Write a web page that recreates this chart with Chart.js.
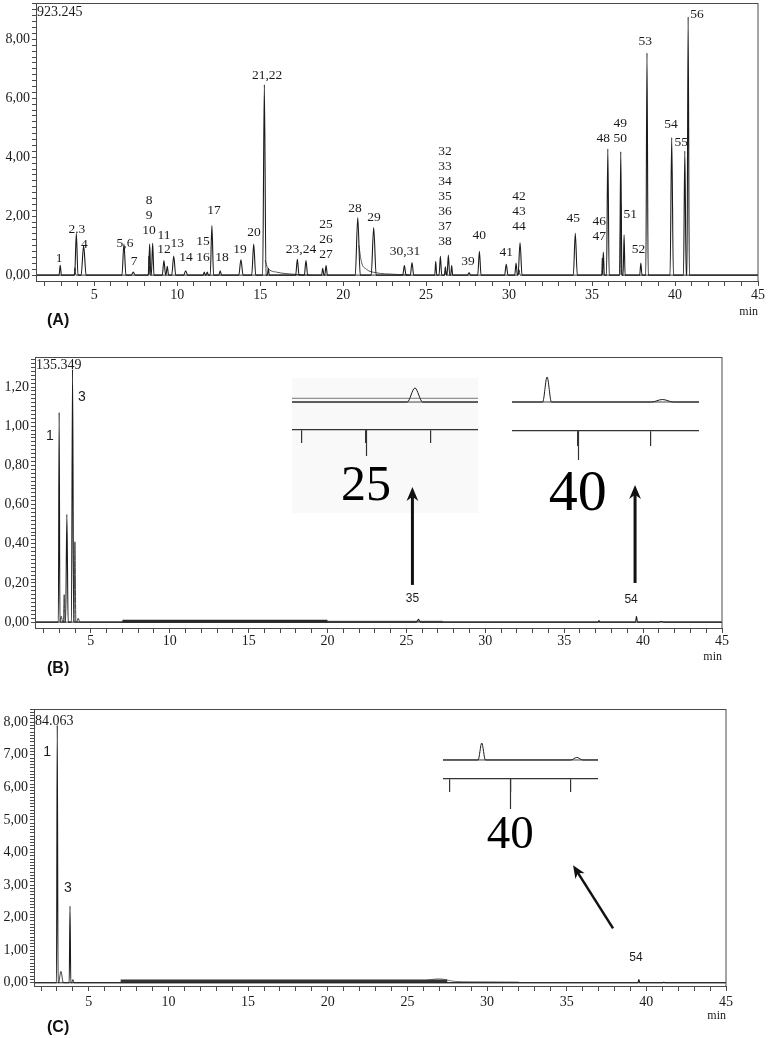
<!DOCTYPE html>
<html>
<head>
<meta charset="utf-8">
<script src="https://cdn.jsdelivr.net/npm/chart.js@4.4.1/dist/chart.umd.min.js"></script>
<style>
  html, body { margin: 0; padding: 0; background: #fff; }
  body { width: 768px; height: 1038px; position: relative; overflow: hidden; }
  .box { position: absolute; left: 0; width: 768px; }
  .inset { position: absolute; }
  .tag { position: absolute; left: 47px; font: bold 16px "Liberation Sans", Arial, sans-serif; color: #111; line-height: 18px; }
</style>
</head>
<body>
<div class="inset" style="left:292px;top:378px;width:186px;height:135px;background:#f9f9f9"></div>
<div class="box" style="top:0;height:320px"><canvas id="chartA"></canvas></div>
<div class="box" style="top:350px;height:314px"><canvas id="chartB"></canvas></div>
<div class="box" style="top:700px;height:323px"><canvas id="chartC"></canvas></div>
<div class="inset" style="left:292px;top:376px;width:186px;height:137px"><canvas id="insetB1"></canvas></div>
<div class="inset" style="left:512px;top:372px;width:187px;height:149px"><canvas id="insetB2"></canvas></div>
<div class="inset" style="left:443px;top:735px;width:155px;height:119px"><canvas id="insetC"></canvas></div>
<div class="tag" style="top:311px">(A)</div>
<div class="tag" style="top:659px">(B)</div>
<div class="tag" style="top:1018px">(C)</div>
<script>
// ---------- panel A: retention time (min), height, half base width ----------
const peakTimeA   = [2.95, 3.92, 4.36, 6.79, 7.35, 8.34, 8.52, 9.2, 9.4, 9.79, 10.51, 11.63, 11.81, 12.09, 12.59, 13.84, 14.61, 15.25, 15.49, 17.24, 17.76, 18.77, 18.97, 20.88, 21.84, 23.69, 24.15, 25.58, 25.86, 26.16, 26.34, 26.54, 27.59, 28.21, 29.83, 30.42, 30.66, 33.99, 35.68, 35.95, 36.73, 36.93, 37.94, 38.31, 39.8, 40.59, 40.79];
const peakHeightA = [0.33, 1.42, 1.0, 1.05, 0.1, 1.05, 1.08, 0.49, 0.3, 0.65, 0.15, 0.1, 0.1, 1.68, 0.15, 0.52, 1.05, 6.46, 0.23, 0.54, 0.49, 0.23, 0.32, 1.95, 1.61, 0.32, 0.43, 0.47, 0.64, 0.28, 0.68, 0.32, 0.08, 0.81, 0.37, 0.41, 1.1, 1.42, 0.78, 4.28, 4.19, 1.37, 0.41, 7.54, 4.67, 4.22, 8.76];
const peakWidthA  = [0.07, 0.1, 0.15, 0.12, 0.12, 0.07, 0.08, 0.1, 0.08, 0.12, 0.12, 0.07, 0.07, 0.1, 0.08, 0.13, 0.12, 0.1, 0.06, 0.1, 0.1, 0.07, 0.08, 0.15, 0.15, 0.1, 0.1, 0.06, 0.08, 0.06, 0.08, 0.06, 0.1, 0.1, 0.1, 0.08, 0.12, 0.12, 0.06, 0.08, 0.07, 0.06, 0.07, 0.07, 0.1, 0.08, 0.07];
// second overlaid trace
const peakTimeA2   = [3.84, 8.3, 26.2, 30.6, 35.62, 36.73];
const peakHeightA2 = [0.25, 0.65, 0.12, 0.18, 0.58, 2.38];
const peakWidthA2  = [0.05, 0.05, 0.06, 0.06, 0.05, 0.05];
// tailing after 21,22 and after 28
const tailA1 = [[15.3, 0.5], [15.45, 0.25], [16.0, 0.1], [17.0, 0.03], [18.0, 0]];
const tailA2 = [[20.95, 1.0], [21.1, 0.45], [21.4, 0.2], [22.0, 0.08], [23.0, 0.03], [24.0, 0]];

const labelTextA  = ['1', '2.3', '4', '5,6', '7', '8', '9', '10', '11', '12', '13', '14', '15', '16', '17', '18', '19', '20', '21,22', '23,24', '25', '26', '27', '28', '29', '30,31', '32', '33', '34', '35', '36', '37', '38', '39', '40', '41', '42', '43', '44', '45', '46', '47', '48', '49', '50', '51', '52', '53', '54', '55', '56'];
const labelTimeA  = [2.89, 3.95, 4.4, 6.85, 7.41, 8.3, 8.3, 8.3, 9.2, 9.2, 10.0, 10.53, 11.56, 11.56, 12.21, 12.7, 13.79, 14.63, 15.42, 17.46, 18.97, 18.97, 18.97, 20.72, 21.86, 23.73, 26.14, 26.14, 26.14, 26.14, 26.14, 26.14, 26.14, 27.53, 28.2, 29.83, 30.6, 30.6, 30.6, 33.86, 35.43, 35.43, 35.67, 36.7, 36.7, 37.3, 37.8, 38.2, 39.76, 40.37, 41.33];
const labelValueA = [0.57, 1.55, 1.05, 1.08, 0.47, 2.53, 2.03, 1.52, 1.35, 0.88, 1.08, 0.61, 1.15, 0.61, 2.21, 0.61, 0.88, 1.45, 6.76, 0.88, 1.72, 1.22, 0.71, 2.26, 1.96, 0.81, 4.19, 3.68, 3.18, 2.67, 2.16, 1.66, 1.15, 0.47, 1.35, 0.78, 2.67, 2.16, 1.66, 1.93, 1.82, 1.32, 4.63, 5.14, 4.63, 2.06, 0.88, 7.94, 5.1, 4.49, 8.85];

// ---------- panel B ----------
const peakTimeB1   = [2.99, 3.48, 3.84, 25.76, 37.2, 39.58, 41.16];
const peakHeightB1 = [1.07, 0.55, 1.29, 0.015, 0.008, 0.03, 0.003];
const peakWidthB1  = [0.05, 0.08, 0.07, 0.12, 0.05, 0.06, 0.15];
const peakTimeB2   = [3.12, 3.31, 3.99, 4.2];
const peakHeightB2 = [0.03, 0.14, 0.41, 0.02];
const peakWidthB2  = [0.1, 0.05, 0.06, 0.1];
const noiseB1 = [[7.0, 0.006], [20.0, 0.006]];
const noiseB2 = [[20.0, 0.004], [27.3, 0.004]];
const labelTextB  = ['1', '3', '35', '54'];
const labelTimeB  = [2.41, 4.43, 25.38, 39.24];
const labelValueB = [0.95, 1.15, 0.118, 0.113];
const arrowsB = [[25.38, 0.19, 25.38, 0.69], [39.49, 0.2, 39.49, 0.7]];

// ---------- panel C ----------
const peakTimeC1   = [3.02, 3.82, 39.53, 41.1];
const peakHeightC1 = [7.91, 2.35, 0.1, 0.015];
const peakWidthC1  = [0.05, 0.05, 0.06, 0.1];
const peakTimeC2   = [3.25, 4.0];
const peakHeightC2 = [0.35, 0.1];
const peakWidthC2  = [0.15, 0.07];
const noiseC1 = [[7.0, 0.05], [27.5, 0.05]];
const noiseC2 = [[26.0, 0.06], [27.0, 0.12], [28.0, 0.04], [29.0, 0.03], [32.0, 0.02]];
const labelTextC  = ['1', '3', '54'];
const labelTimeC  = [2.38, 3.69, 39.35];
const labelValueC = [7.09, 2.91, 0.77];
const arrowsC = [[37.91, 1.67, 35.40, 3.61]];

// axis ticks
const xMajorEvery = 5;
const xMinorStep = 1;

const serif = '"Liberation Serif", "Times New Roman", serif';
const sans = '"Liberation Sans", Arial, sans-serif';
const ink = '#1b1b1b';
const frame = '#4a4a4a';

function peakTrace(times, heights, widths, from, to) {
    const out = [{x: from, y: 0}];
    times.forEach((t, i) => {
        out.push({x: t - widths[i], y: 0}, {x: t, y: heights[i]}, {x: t + widths[i], y: 0});
    });
    out.push({x: to, y: 0});
    return out;
}

const pts = list => list.map(p => ({x: p[0], y: p[1]}));

function tickList(start, stop, step) {
    const out = [];
    for (let i = 0; start + i * step <= stop + 1e-9; i++) {
        out.push(Math.round((start + i * step) * 1000) / 1000);
    }
    return out;
}

const isMajor = (v, every) => Math.abs(v / every - Math.round(v / every)) < 1e-6;

function line(data, width, color) {
    return {
        data: data,
        borderColor: color || ink,
        borderWidth: width || 1,
        pointRadius: 0,
        cubicInterpolationMode: 'monotone',
        fill: false
    };
}

function drawArrow(ctx, x0, y0, x1, y1, w, head) {
    const a = Math.atan2(y1 - y0, x1 - x0);
    const c = Math.cos(a), s = Math.sin(a);
    ctx.lineWidth = w;
    ctx.beginPath();
    ctx.moveTo(x0, y0);
    ctx.lineTo(x1 - c * head * 0.7, y1 - s * head * 0.7);
    ctx.stroke();
    ctx.beginPath();
    ctx.moveTo(x1, y1);
    ctx.lineTo(x1 - c * head + s * head * 0.42, y1 - s * head - c * head * 0.42);
    ctx.lineTo(x1 - c * head * 0.7, y1 - s * head * 0.7);
    ctx.lineTo(x1 - c * head - s * head * 0.42, y1 - s * head + c * head * 0.42);
    ctx.closePath();
    ctx.fill();
}

const decor = {
    id: 'decor',
    afterDraw(chart, args, o) {
        const {ctx, chartArea: a} = chart;
        const x = chart.scales.x, y = chart.scales.y;
        ctx.save();
        ctx.strokeStyle = frame;
        ctx.lineWidth = 1;
        ctx.strokeRect(a.left + 0.5, a.top + 0.5, a.right - a.left - 0.5, a.bottom - a.top);
        ctx.fillStyle = ink;
        ctx.textBaseline = 'middle';
        ctx.textAlign = 'left';
        ctx.font = '14px ' + serif;
        ctx.fillText(o.maxText, a.left + 1, a.top + o.maxDy);
        ctx.textAlign = 'center';
        o.texts.forEach((t, i) => {
            ctx.font = (o.sizes ? o.sizes[i] : o.size) + 'px ' + o.family;
            ctx.fillText(t, x.getPixelForValue(o.times[i]), y.getPixelForValue(o.values[i]));
        });
        ctx.strokeStyle = '#111';
        ctx.fillStyle = '#111';
        (o.arrows || []).forEach(r => {
            drawArrow(ctx, x.getPixelForValue(r[0]), y.getPixelForValue(r[1]),
                x.getPixelForValue(r[2]), y.getPixelForValue(r[3]), o.arrowWidth, o.arrowHead);
        });
        ctx.restore();
    }
};

function panel(id, p) {
    return new Chart(document.getElementById(id), {
        type: 'line',
        data: {datasets: p.datasets},
        options: {
            responsive: true,
            maintainAspectRatio: false,
            animation: false,
            events: [],
            layout: {padding: {top: p.padTop, right: p.padRight, bottom: p.padBottom, left: 0}},
            plugins: {legend: {display: false}, tooltip: {enabled: false}, decor: p.decor},
            scales: {
                x: {
                    type: 'linear', bounds: 'data', min: p.xMin, max: p.xMax,
                    afterBuildTicks: s => { s.ticks = tickList(2, 45, xMinorStep).map(v => ({value: v})); },
                    afterFit: s => { s.height = p.xAxisHeight; s.paddingLeft = 0; s.paddingRight = 0; },
                    border: {color: frame, width: 1},
                    grid: {drawOnChartArea: false, tickLength: 5, color: frame},
                    ticks: {
                        autoSkip: false, maxRotation: 0, padding: p.xPad, color: ink,
                        font: {family: serif, size: 14},
                        callback: v => isMajor(v, xMajorEvery) ? String(v) : ''
                    },
                    title: {display: true, text: 'min', align: 'end', color: ink, font: {family: serif, size: 12}, padding: 0}
                },
                y: {
                    type: 'linear', bounds: 'data', min: p.yMin, max: p.yMax,
                    afterBuildTicks: s => { s.ticks = tickList(0, p.yMax, p.yMinor).map(v => ({value: v})); },
                    afterFit: s => { s.width = p.yAxisWidth; s.paddingTop = 0; s.paddingBottom = 0; },
                    border: {color: frame, width: 1},
                    grid: {drawOnChartArea: false, tickLength: 4, color: frame},
                    ticks: {
                        autoSkip: false, padding: 2, color: ink,
                        font: {family: serif, size: 14},
                        callback: v => isMajor(v, p.yMajor) ? v.toFixed(2).replace('.', ',') : ''
                    }
                }
            }
        },
        plugins: [decor]
    });
}

const longTick = {
    id: 'longTick',
    afterDraw(chart, args, o) {
        const {ctx, chartArea: a} = chart;
        const px = Math.round(chart.scales.x.getPixelForValue(o.value)) + 0.5;
        ctx.save();
        ctx.strokeStyle = '#333';
        ctx.lineWidth = 1.2;
        ctx.beginPath();
        ctx.moveTo(px, a.bottom);
        ctx.lineTo(px, a.bottom + o.length);
        ctx.stroke();
        ctx.restore();
    }
};

function inset(id, p) {
    return new Chart(document.getElementById(id), {
        type: 'line',
        data: {datasets: p.datasets},
        options: {
            responsive: true,
            maintainAspectRatio: false,
            animation: false,
            events: [],
            layout: {padding: 0},
            plugins: {legend: {display: false}, tooltip: {enabled: false}, longTick: {value: p.mark, length: p.longLen}},
            scales: {
                x: {
                    type: 'linear', bounds: 'data', min: p.xMin, max: p.xMax,
                    afterBuildTicks: s => { s.ticks = p.ticks.map(v => ({value: v})); },
                    afterFit: s => { s.height = p.axisHeight; s.paddingLeft = 0; s.paddingRight = 0; },
                    border: {color: '#333', width: 1.2},
                    grid: {drawOnChartArea: false, tickLength: p.shortLen, color: '#333', lineWidth: 1.2},
                    ticks: {
                        autoSkip: false, maxRotation: 0, padding: p.pad, color: '#000',
                        font: {family: serif, size: p.fontSize},
                        callback: v => v === p.mark ? String(v) : ''
                    }
                },
                y: {display: false, min: p.yMin, max: p.yMax}
            }
        },
        plugins: [longTick]
    });
}

const traceB = () => [
    line(peakTrace(peakTimeB1, peakHeightB1, peakWidthB1, 1.46, 45), 1.1),
    line(peakTrace(peakTimeB2, peakHeightB2, peakWidthB2, 1.46, 45), 1, '#444'),
    line(pts(noiseB1), 2.5, '#2a2a2a'),
    line(pts(noiseB2), 1.2, '#777')
];
const traceC = () => [
    line(peakTrace(peakTimeC1, peakHeightC1, peakWidthC1, 1.56, 45), 1.1),
    line(peakTrace(peakTimeC2, peakHeightC2, peakWidthC2, 1.56, 45), 1, '#444'),
    line(pts(noiseC1), 3, '#333'),
    line(pts(noiseC2), 1, '#777')
];

panel('chartA', {
    datasets: [
        line(peakTrace(peakTimeA, peakHeightA, peakWidthA, 1.49, 45), 1.1),
        line(peakTrace(peakTimeA2, peakHeightA2, peakWidthA2, 1.49, 45), 1, '#333'),
        line(pts(tailA1), 1, '#555'),
        line(pts(tailA2), 1, '#555')
    ],
    xMin: 1.49, xMax: 45, yMin: -0.2, yMax: 9.23245, yMinor: 0.2, yMajor: 2,
    padTop: 3, padRight: 10, padBottom: 1, xAxisHeight: 38, yAxisWidth: 36, xPad: 1,
    decor: {maxText: '923.245', maxDy: 9, texts: labelTextA, times: labelTimeA, values: labelValueA,
        size: 13.5, family: serif}
});

panel('chartB', {
    datasets: traceB(),
    xMin: 1.46, xMax: 45, yMin: -0.03, yMax: 1.35349, yMinor: 0.02, yMajor: 0.2,
    padTop: 7, padRight: 46, padBottom: 0, xAxisHeight: 36, yAxisWidth: 35, xPad: 0,
    decor: {maxText: '135.349', maxDy: 8, texts: labelTextB, times: labelTimeB, values: labelValueB,
        sizes: [14, 14, 12, 12], family: sans, arrows: arrowsB, arrowWidth: 3, arrowHead: 14}
});

panel('chartC', {
    datasets: traceC(),
    xMin: 1.56, xMax: 45, yMin: -0.1, yMax: 8.4063, yMinor: 0.1, yMajor: 1,
    padTop: 9, padRight: 42, padBottom: 0, xAxisHeight: 37, yAxisWidth: 34, xPad: 3,
    decor: {maxText: '84.063', maxDy: 12, texts: labelTextC, times: labelTimeC, values: labelValueC,
        sizes: [14, 14, 12], family: sans, arrows: arrowsC, arrowWidth: 2.5, arrowHead: 13}
});

inset('insetB1', {
    datasets: traceB().map(d => Object.assign(d, {borderWidth: 1})),
    xMin: 23.85, xMax: 26.74, yMin: -0.030, yMax: 0.0279, ticks: [24, 25, 26], mark: 25,
    shortLen: 13, longLen: 26, axisHeight: 83, pad: 14, fontSize: 50
});

inset('insetB2', {
    datasets: traceB().map(d => Object.assign(d, {borderWidth: 1})),
    xMin: 39.1, xMax: 41.66, yMin: -0.0348, yMax: 0.036, ticks: [40, 41], mark: 40,
    shortLen: 15, longLen: 29, axisHeight: 90, pad: 14, fontSize: 58
});

inset('insetC', {
    datasets: traceC().map(d => Object.assign(d, {borderWidth: 1})),
    xMin: 38.89, xMax: 41.45, yMin: -0.112, yMax: 0.147, ticks: [39, 40, 41], mark: 40,
    shortLen: 13, longLen: 30, axisHeight: 75, pad: 15, fontSize: 47
});
</script>
</body>
</html>
